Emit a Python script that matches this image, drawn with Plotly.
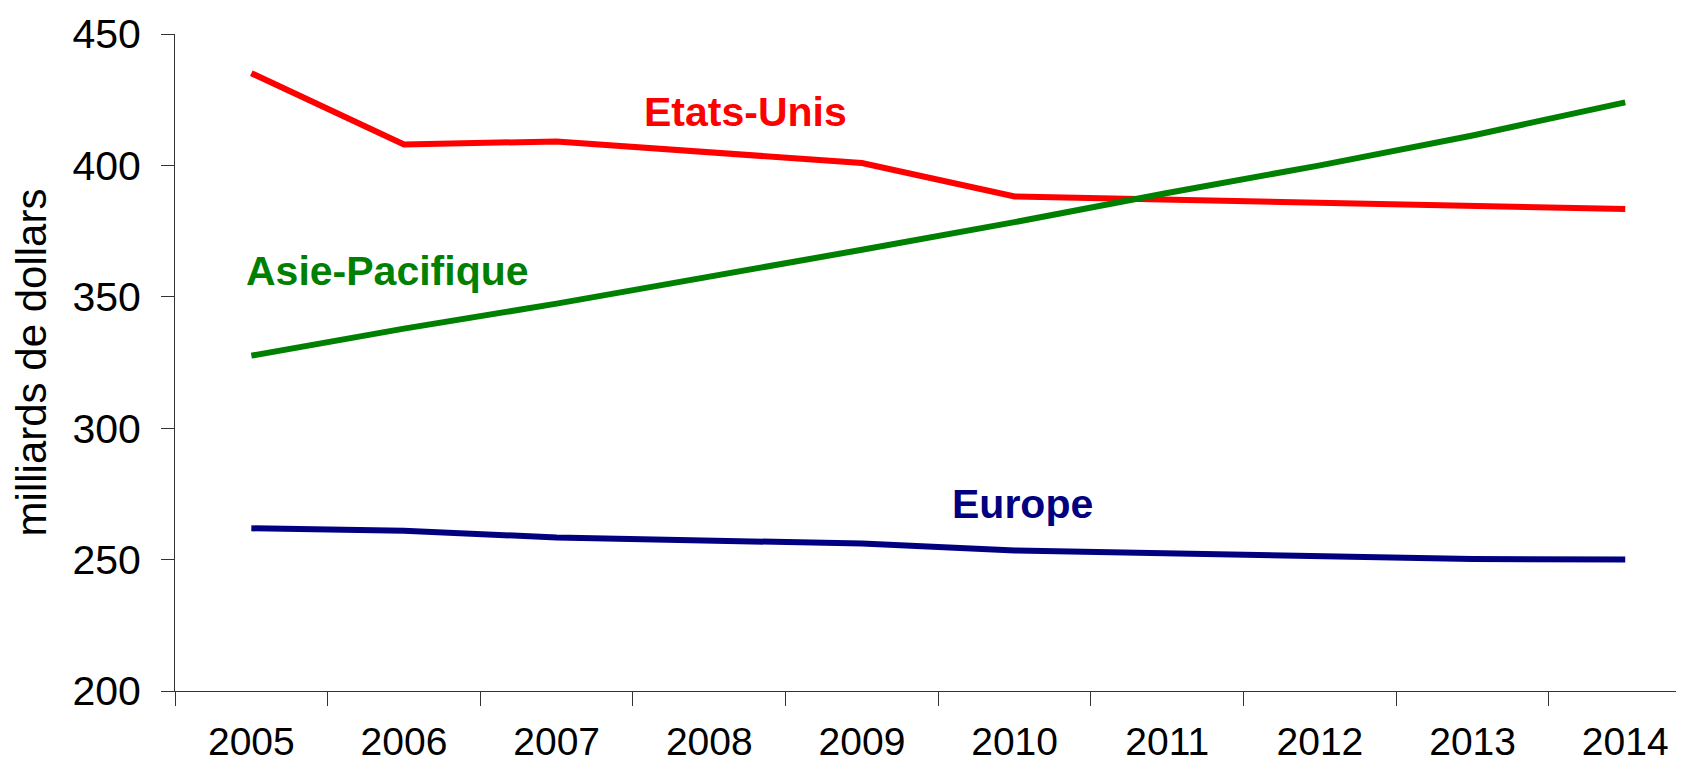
import plotly.graph_objects as go

years = ["2005", "2006", "2007", "2008", "2009", "2010", "2011", "2012", "2013", "2014"]
etats_unis = [435.1, 408.0, 409.1, 405.1, 400.9, 388.2, 386.9, 385.8, 384.6, 383.4]
asie_pacifique = [327.6, 337.9, 347.4, 357.5, 367.9, 378.4, 389.5, 400.0, 411.4, 424.0]
europe = [261.9, 261.0, 258.4, 257.3, 256.1, 253.5, 252.5, 251.4, 250.2, 250.0]

y_ticks = [200, 250, 300, 350, 400, 450]

FONT = "Arial, Liberation Sans, sans-serif"

fig = go.Figure()
series = [
    ("Etats-Unis", etats_unis, "#FF0000"),
    ("Asie-Pacifique", asie_pacifique, "#008000"),
    ("Europe", europe, "#000080"),
]
for name, vals, col in series:
    fig.add_trace(go.Scatter(x=years, y=vals, mode="lines", name=name,
                             line=dict(color=col, width=6), showlegend=False))

labels = [
    ("Etats-Unis", 3.236, 420.2, "#FF0000"),
    ("Asie-Pacifique", 0.892, 359.7, "#008000"),
    ("Europe", 5.05, 271.1, "#000080"),
]
for txt, x, y, col in labels:
    fig.add_annotation(x=x, y=y, xref="x", yref="y", text="<b>%s</b>" % txt,
                       showarrow=False, font=dict(family=FONT, size=41, color=col),
                       xanchor="center", yanchor="middle")

fig.update_layout(
    width=1676, height=757,
    margin=dict(l=167, r=0, t=26, b=74),
    plot_bgcolor="white", paper_bgcolor="white",
    font=dict(family=FONT, color="black"),
    xaxis=dict(type="category", range=[-0.5, 9.385], tickson="boundaries",
               ticks="outside", ticklen=14, tickcolor="#333", tickwidth=1,
               showline=True, linecolor="#333", linewidth=1, showgrid=False,
               tickfont=dict(size=39, family=FONT), ticklabelstandoff=16,
               automargin=False),
    yaxis=dict(range=[200, 450], tickvals=y_ticks, ticks="outside", ticklen=13,
               tickcolor="#333", tickwidth=1, showline=True, linecolor="#333",
               linewidth=1, showgrid=False, zeroline=False,
               tickfont=dict(size=41, family=FONT), ticklabelstandoff=12,
               automargin=False,
               title=dict(text="milliards de dollars", font=dict(size=42, family=FONT),
                          standoff=18)),
)

fig.write_html("out.html")
